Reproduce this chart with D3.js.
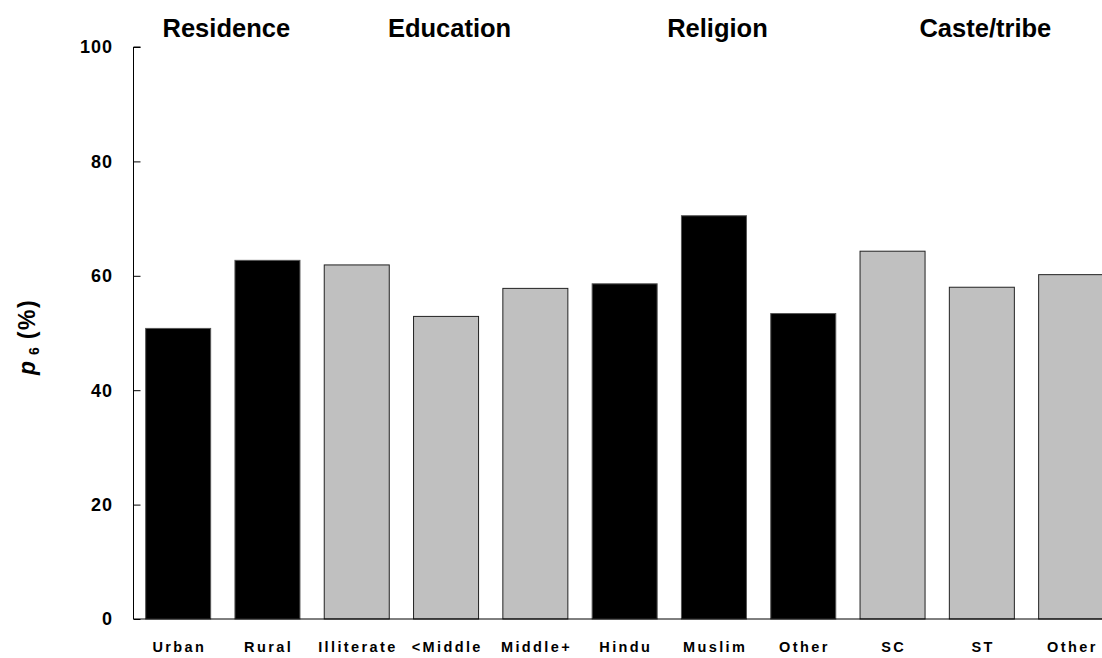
<!DOCTYPE html>
<html>
<head>
<meta charset="utf-8">
<script src="https://cdn.jsdelivr.net/npm/d3@7"></script>
<style>
  html, body { margin: 0; padding: 0; background: #fff; }
  svg { display: block; }
  text { font-family: Arial, "Liberation Sans", Helvetica, sans-serif; font-weight: bold; fill: #000; }
</style>
</head>
<body>
<svg id="chart" width="1102" height="658"></svg>
<script>
// ---- data ----
const categories = ["Urban", "Rural", "Illiterate", "<Middle", "Middle+", "Hindu", "Muslim", "Other", "SC", "ST", "Other "];
const values = [50.8, 62.7, 61.9, 52.9, 57.8, 58.6, 70.5, 53.4, 64.3, 58.0, 60.2];
const groupOf = ["Residence", "Residence", "Education", "Education", "Education", "Religion", "Religion", "Religion", "Caste/tribe", "Caste/tribe", "Caste/tribe"];
const groups = ["Residence", "Education", "Religion", "Caste/tribe"];
const groupColors = ["#000000", "#c0c0c0", "#000000", "#c0c0c0"];
const yTicks = [0, 20, 40, 60, 80, 100];

// ---- layout ----
const svg = d3.select("#chart");
const x0 = 133.5, yTop = 47, yBottom = 619;

const x = d3.scaleBand()
  .domain(categories)
  .range([x0, x0 + 11 * 89.3])
  .paddingInner(0.272)
  .paddingOuter(0.136);

const y = d3.scaleLinear().domain([0, 100]).range([yBottom, yTop]);
const color = d3.scaleOrdinal().domain(groups).range(groupColors);

// bars
svg.append("g").selectAll("rect")
  .data(categories)
  .join("rect")
  .attr("x", d => x(d))
  .attr("y", (d, i) => y(values[i]))
  .attr("width", x.bandwidth())
  .attr("height", (d, i) => y(0) - y(values[i]))
  .attr("fill", (d, i) => color(groupOf[i]))
  .attr("stroke", (d, i) => color(groupOf[i]) === "#000000" ? "#555" : "#222")
  .attr("stroke-width", 1);

// y axis (ticks pointing inward)
const yAxis = d3.axisRight(y).tickValues(yTicks).tickSize(7).tickFormat("");
const yg = svg.append("g").attr("transform", `translate(${x0},0)`).call(yAxis);
yg.select(".domain").attr("d", `M7,${yTop}H0V${yBottom}`).attr("stroke", "#000");
yg.selectAll(".tick line").attr("stroke", "#000");

svg.append("g").selectAll("text")
  .data(yTicks)
  .join("text")
  .attr("x", 113)
  .attr("y", d => y(d))
  .attr("dy", "0.36em")
  .attr("text-anchor", "end")
  .attr("font-size", 18)
  .style("letter-spacing", "1px")
  .text(d => d);

// x axis baseline
const xAxis = d3.axisBottom(x).tickSize(0).tickFormat("");
const xg = svg.append("g").attr("transform", `translate(0,${yBottom})`).call(xAxis);
xg.select(".domain").attr("stroke", "#000").attr("d", `M${x0},0H1102`);

// category labels
svg.append("g").selectAll("text")
  .data(categories)
  .join("text")
  .attr("x", d => x(d) + x.bandwidth() / 2 + 1.2)
  .attr("y", 652)
  .attr("text-anchor", "middle")
  .attr("font-size", 14.5)
  .style("letter-spacing", "2.4px")
  .text(d => d.trim());

// group headers
svg.append("g").selectAll("text")
  .data(groups)
  .join("text")
  .attr("x", g => {
    const members = categories.filter((c, i) => groupOf[i] === g);
    return d3.mean(members, c => x(c) + x.bandwidth() / 2) + 3.5;
  })
  .attr("y", 37)
  .attr("text-anchor", "middle")
  .attr("font-size", 25.5)
  .text(g => g);

// y axis title
const title = svg.append("text")
  .attr("transform", "translate(35,337) rotate(-90)")
  .attr("text-anchor", "middle")
  .attr("font-size", 23);
title.append("tspan").style("font-style", "italic").text("p");
title.append("tspan").attr("font-size", 14).attr("dy", 4).attr("dx", 6).text("6");
title.append("tspan").attr("dy", -4).attr("dx", 8).style("letter-spacing", "1.5px").text("(%)");
</script>
</body>
</html>
